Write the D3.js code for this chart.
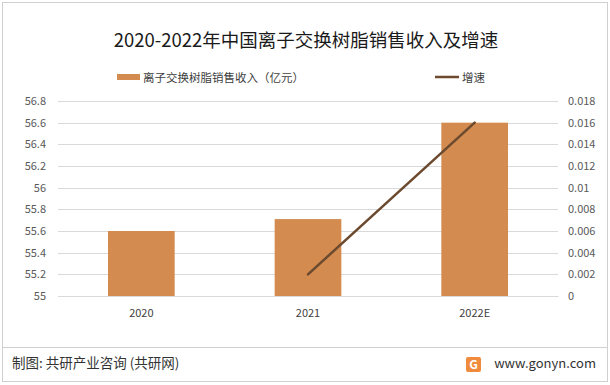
<!DOCTYPE html>
<html>
<head>
<meta charset="utf-8">
<script src="https://cdn.jsdelivr.net/npm/d3@7"></script>
<style>
  body { margin: 0; background: #fff; }
  text { font-family: "Noto Sans CJK SC", "Liberation Sans", sans-serif; }
</style>
</head>
<body>
<svg id="chart" width="610" height="385"></svg>
<script>
'use strict';

const years = ['2020', '2021', '2022E'];
const revenue = [55.6, 55.71, 56.6];          // 离子交换树脂销售收入（亿元）
const growth = [null, 0.002, 0.016];         // 增速
const leftTicks = [55, 55.2, 55.4, 55.6, 55.8, 56, 56.2, 56.4, 56.6, 56.8];
const rightTicks = [0, 0.002, 0.004, 0.006, 0.008, 0.01, 0.012, 0.014, 0.016, 0.018];

const W = 610, H = 385;
const margin = { top: 101, right: 52, bottom: 89, left: 58 };
const barColor = '#d38b4f';
const lineColor = '#6b4a2f';

const svg = d3.select('#chart');

// outer frame + footer divider
svg.append('rect')
  .attr('x', 2.5).attr('y', 2.5).attr('width', W - 5).attr('height', H - 6)
  .attr('fill', 'none').attr('stroke', '#d0d0d0');
svg.append('line')
  .attr('x1', 3).attr('x2', W - 3).attr('y1', 347.5).attr('y2', 347.5)
  .attr('stroke', '#d0d0d0');

const x = d3.scaleBand()
  .domain(years)
  .range([margin.left, W - margin.right]);
const yL = d3.scaleLinear().domain([55, 56.8]).range([H - margin.bottom, margin.top]);
const yR = d3.scaleLinear().domain([0, 0.018]).range([H - margin.bottom, margin.top]);

// gridlines
svg.append('g')
  .selectAll('line')
  .data(leftTicks)
  .join('line')
  .attr('x1', margin.left).attr('x2', W - margin.right)
  .attr('y1', d => Math.round(yL(d)) + 0.5).attr('y2', d => Math.round(yL(d)) + 0.5)
  .attr('stroke', '#d9d9d9');

// left axis
const axL = svg.append('g')
  .attr('transform', `translate(${margin.left},0)`)
  .call(d3.axisLeft(yL).tickValues(leftTicks).tickSize(0).tickPadding(12).tickFormat(d => String(+d.toFixed(1))));
axL.select('.domain').remove();
axL.selectAll('text').attr('fill', '#595959').style('font-size', '11px');

// right axis
const axR = svg.append('g')
  .attr('transform', `translate(${W - margin.right},0)`)
  .call(d3.axisRight(yR).tickValues(rightTicks).tickSize(0).tickPadding(10).tickFormat(d => String(+d.toFixed(3))));
axR.select('.domain').remove();
axR.selectAll('text').attr('fill', '#595959').style('font-size', '11px');

// bottom axis
const axB = svg.append('g')
  .attr('transform', `translate(0,${H - margin.bottom})`)
  .call(d3.axisBottom(x).tickSize(0).tickPadding(13));
axB.select('.domain').attr('stroke', '#d9d9d9');
axB.selectAll('text').attr('fill', '#404040').style('font-size', '11px');

// bars
const bw = x.bandwidth() * 0.4;
svg.append('g')
  .selectAll('rect')
  .data(years.map((y, i) => ({ y, v: revenue[i] })))
  .join('rect')
  .attr('x', d => x(d.y) + (x.bandwidth() - bw) / 2)
  .attr('width', bw)
  .attr('y', d => yL(d.v))
  .attr('height', d => yL(55) - yL(d.v))
  .attr('fill', barColor);

// growth line
const pts = years.map((y, i) => ({ y, v: growth[i] })).filter(d => d.v !== null);
svg.append('path')
  .datum(pts)
  .attr('fill', 'none')
  .attr('stroke', lineColor)
  .attr('stroke-width', 2.5)
  .attr('stroke-linecap', 'round')
  .attr('d', d3.line().x(d => x(d.y) + x.bandwidth() / 2).y(d => yR(d.v)));

// title
svg.append('text')
  .attr('x', 306).attr('y', 47)
  .attr('text-anchor', 'middle')
  .attr('fill', '#1a1a1a')
  .style('font-size', '18.5px')
  .text('2020-2022年中国离子交换树脂销售收入及增速');

// legend
const lg = svg.append('g');
lg.append('rect').attr('x', 117).attr('y', 74).attr('width', 23).attr('height', 6).attr('fill', barColor);
lg.append('text').attr('x', 143).attr('y', 81.5).attr('fill', '#404040').style('font-size', '11.5px')
  .text('离子交换树脂销售收入（亿元）');
lg.append('line').attr('x1', 435).attr('x2', 459).attr('y1', 77).attr('y2', 77)
  .attr('stroke', lineColor).attr('stroke-width', 2.5);
lg.append('text').attr('x', 462).attr('y', 81.5).attr('fill', '#404040').style('font-size', '11.5px')
  .text('增速');

// footer
svg.append('text')
  .attr('x', 12).attr('y', 368)
  .attr('fill', '#333').style('font-size', '13.5px')
  .text('制图: 共研产业咨询 (共研网)');
const logo = svg.append('g').attr('transform', 'translate(466,357)');
logo.append('rect').attr('width', 15).attr('height', 15).attr('rx', 2).attr('fill', '#f08a3c');
logo.append('text').attr('x', 7.5).attr('y', 12).attr('text-anchor', 'middle')
  .attr('fill', '#fff').style('font-size', '12px').style('font-weight', 'bold').text('G');
svg.append('text')
  .attr('x', 596).attr('y', 368)
  .attr('text-anchor', 'end')
  .attr('fill', '#333').style('font-size', '13px')
  .text('www.gonyn.com');
</script>
</body>
</html>
